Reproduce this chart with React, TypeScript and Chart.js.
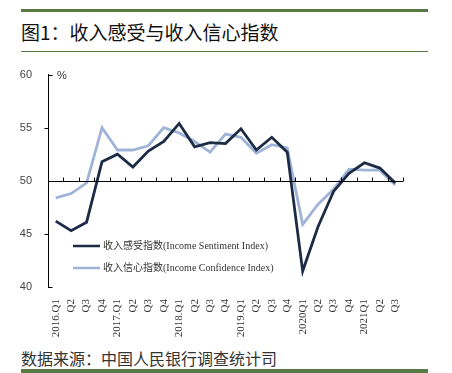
import React, { useEffect, useRef } from "react";
import { Chart, registerables } from "chart.js";

Chart.register(...registerables);

const categories = [
  "2016.Q1", "Q2", "Q3", "Q4",
  "2017.Q1", "Q2", "Q3", "Q4",
  "2018.Q1", "Q2", "Q3", "Q4",
  "2019.Q1", "Q2", "Q3", "Q4",
  "2020Q1", "Q2", "Q3", "Q4",
  "2021Q1", "Q2", "Q3",
];

const sentiment = [46.2, 45.3, 46.1, 51.8, 52.5, 51.3, 52.8, 53.7, 55.4, 53.2, 53.6, 53.5, 54.9, 52.9, 54.1, 52.7, 41.5, 45.7, 49.0, 50.7, 51.7, 51.2, 49.8];
const confidence = [48.4, 48.8, 49.8, 55.0, 52.9, 52.9, 53.3, 55.0, 54.5, 53.7, 52.7, 54.4, 54.1, 52.6, 53.4, 53.1, 45.9, 47.8, 49.2, 51.1, 51.0, 51.0, 49.6];

const yTicks = [40, 45, 50, 55, 60];

const seriesNames = [
  "收入感受指数(Income Sentiment Index)",
  "收入信心指数(Income Confidence Index)",
];

const DARK = "#1d2b45";
const LIGHT = "#9fb4d8";
const GREEN = "#587a45";

const axisPlugin = {
  id: "customAxis",
  afterDatasetsDraw(chart: any) {
    const { ctx, chartArea, scales } = chart;
    const x = scales.x;
    const y = scales.y;
    ctx.save();
    ctx.strokeStyle = "#000";
    ctx.lineWidth = 1;
    const y50 = Math.round(y.getPixelForValue(50)) + 0.5;
    ctx.beginPath();
    ctx.moveTo(chartArea.left, y50);
    ctx.lineTo(chartArea.right, y50);
    const n = categories.length;
    const step = x.getPixelForValue(1) - x.getPixelForValue(0);
    for (let i = 0; i < n; i++) {
      const bx = Math.round(x.getPixelForValue(i) + step / 2) + 0.5;
      ctx.moveTo(bx, y50);
      ctx.lineTo(bx, y50 - 4);
    }
    const ax = Math.round(chartArea.left) + 0.5;
    for (const v of yTicks) {
      if (v === 50) continue;
      const py = Math.round(y.getPixelForValue(v)) + 0.5;
      ctx.moveTo(ax, py);
      if (v === 40 || v === 60) ctx.lineTo(ax + 4, py);
      else ctx.lineTo(ax - 4, py);
    }
    ctx.stroke();
    ctx.fillStyle = "#333";
    ctx.font = "11px 'Liberation Sans', Arial, sans-serif";
    ctx.textBaseline = "middle";
    ctx.textAlign = "left";
    ctx.fillText("%", chartArea.left + 9, y.getPixelForValue(60) + 1);
    const colors = [DARK, LIGHT];
    const legendY = [186, 208];
    ctx.font = "10px 'Liberation Serif', 'Noto Sans CJK SC', serif";
    for (let i = 0; i < 2; i++) {
      ctx.strokeStyle = colors[i];
      ctx.lineWidth = 2.5;
      ctx.beginPath();
      ctx.moveTo(73, legendY[i]);
      ctx.lineTo(100, legendY[i]);
      ctx.stroke();
      ctx.fillStyle = "#333";
      ctx.fillText(seriesNames[i], 103, legendY[i]);
    }
    ctx.restore();
  },
};

export default function App() {
  const ref = useRef<HTMLCanvasElement | null>(null);

  useEffect(() => {
    if (!ref.current) return;
    const chart = new Chart(ref.current, {
      type: "line",
      data: {
        labels: categories,
        datasets: [
          {
            label: seriesNames[0],
            data: sentiment,
            borderColor: DARK,
            backgroundColor: DARK,
            borderWidth: 2.8,
            pointRadius: 0,
            tension: 0,
          },
          {
            label: seriesNames[1],
            data: confidence,
            borderColor: LIGHT,
            backgroundColor: LIGHT,
            borderWidth: 2.8,
            pointRadius: 0,
            tension: 0,
          },
        ],
      },
      options: {
        animation: false,
        responsive: false,
        maintainAspectRatio: false,
        layout: { padding: { top: 14, right: 49, left: 0, bottom: 0 } },
        plugins: {
          legend: { display: false },
          tooltip: { enabled: false },
        },
        scales: {
          x: {
            type: "category",
            offset: true,
            grid: { display: false },
            border: { display: false },
            ticks: {
              minRotation: 90,
              maxRotation: 90,
              autoSkip: false,
              padding: 4,
              color: "#333",
              font: { family: "'Liberation Serif', 'Times New Roman', serif", size: 11 },
            },
            afterFit(scale: any) {
              scale.height = 58;
            },
          },
          y: {
            min: 40,
            max: 60,
            afterBuildTicks(scale: any) {
              scale.ticks = yTicks.map((v) => ({ value: v }));
            },
            grid: { display: false },
            border: { display: true, color: "#000", width: 1 },
            ticks: {
              padding: 8,
              color: "#444",
              font: { family: "'Liberation Sans', Arial, sans-serif", size: 11 },
            },
            afterFit(scale: any) {
              scale.width = 48;
            },
          },
        },
      },
      plugins: [axisPlugin],
    });
    return () => chart.destroy();
  }, []);

  return (
    <div
      style={{
        position: "fixed",
        left: 0,
        top: 0,
        width: 452,
        height: 373,
        background: "#fff",
        overflow: "hidden",
        fontFamily: "'Noto Sans CJK SC', sans-serif",
      }}
    >
      <div style={{ position: "absolute", left: 21, top: 9, width: 407, height: 3, background: GREEN }} />
      <div
        style={{
          position: "absolute",
          left: 21,
          top: 19,
          fontSize: 19,
          lineHeight: "26px",
          color: "#111",
          whiteSpace: "nowrap",
        }}
      >
        图1：收入感受与收入信心指数
      </div>
      <div style={{ position: "absolute", left: 21, top: 51, width: 407, height: 1, background: GREEN }} />
      <canvas
        ref={ref}
        width={452}
        height={285}
        style={{ position: "absolute", left: 0, top: 60, width: 452, height: 285 }}
      />
      <div
        style={{
          position: "absolute",
          left: 21,
          top: 348,
          fontSize: 16,
          lineHeight: "20px",
          color: "#333",
          whiteSpace: "nowrap",
        }}
      >
        数据来源：中国人民银行调查统计司
      </div>
      <div style={{ position: "absolute", left: 21, top: 369, width: 407, height: 4, background: GREEN }} />
    </div>
  );
}
